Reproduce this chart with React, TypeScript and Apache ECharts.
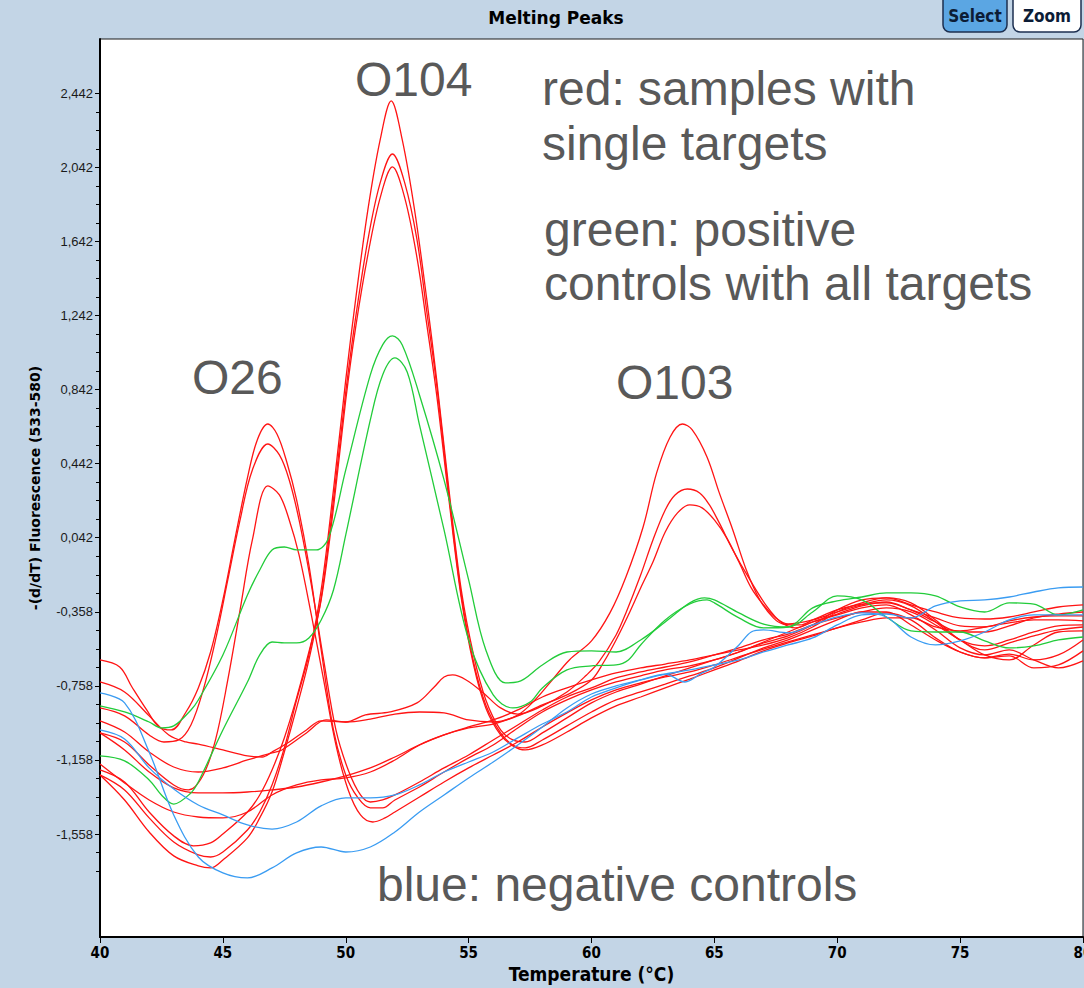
import React, { useEffect, useRef } from "react";
import * as echarts from "echarts";

type Pt = [number, number];

// ---- axis ticks ----
const xTicks = [40, 45, 50, 55, 60, 65, 70, 75, 80];
const yMajorTicks = [-1.558, -1.158, -0.758, -0.358, 0.042, 0.442, 0.842, 1.242, 1.642, 2.042, 2.442];
const yMinorTicks = [
  -1.758, -1.658, -1.458, -1.358, -1.258, -1.058, -0.958, -0.858, -0.658, -0.558, -0.458,
  -0.258, -0.158, -0.058, 0.142, 0.242, 0.342, 0.542, 0.642, 0.742, 0.942, 1.042, 1.142,
  1.342, 1.442, 1.542, 1.742, 1.842, 1.942, 2.142, 2.242, 2.342,
];

// ---- negative controls (blue) ----
const neg1: Pt[] = [
  [40, -0.796], [41, -0.85], [42, -1.115], [43, -1.455], [44, -1.682], [45, -1.768], [46, -1.795],
  [47, -1.741], [48, -1.66], [49, -1.628], [50, -1.655], [51, -1.628], [52, -1.547], [53, -1.439],
  [54, -1.347], [55, -1.255], [56, -1.169], [57, -1.077], [58, -0.98], [59, -0.877], [60, -0.802],
  [61, -0.758], [62, -0.726], [63, -0.694], [64, -0.672], [65, -0.645], [66, -0.618], [67, -0.575],
  [68, -0.537], [69, -0.499], [70, -0.429], [71, -0.375], [72, -0.37], [73, -0.391], [74, -0.326],
  [75, -0.299], [76, -0.294], [77, -0.278], [78, -0.251], [79, -0.229], [80, -0.224],
];
const neg2: Pt[] = [
  [40, -0.996], [41, -1.045], [42, -1.201], [43, -1.315], [44, -1.401], [45, -1.455], [46, -1.509],
  [47, -1.531], [48, -1.493], [49, -1.406], [50, -1.363], [51, -1.363], [52, -1.347], [53, -1.293],
  [54, -1.223], [55, -1.169], [56, -1.115], [57, -1.039], [58, -0.964], [59, -0.899], [60, -0.818],
  [61, -0.769], [62, -0.726], [63, -0.694], [63.8, -0.737], [64.5, -0.688], [65, -0.656], [66, -0.537],
  [66.5, -0.467], [67, -0.456], [68, -0.472], [69, -0.429], [70, -0.386], [71, -0.364], [72, -0.386],
  [73, -0.494], [74, -0.537], [75, -0.515], [76, -0.467], [77, -0.402], [78, -0.375], [79, -0.375],
  [80, -0.375],
];

// ---- positive controls (green) ----
const pos1: Pt[] = [
  [40, -0.866], [41, -0.899], [42, -0.953], [42.5, -0.985], [43, -0.974], [43.7, -0.888], [44, -0.834],
  [45, -0.591], [46, -0.267], [46.5, -0.132], [47, -0.024], [47.5, -0.008], [48, -0.024], [48.8, -0.024],
  [49.3, 0.041], [50, 0.408], [51, 0.921], [51.5, 1.083], [51.9, 1.132], [52.3, 1.083], [53, 0.813],
  [54, 0.354], [55, -0.186], [55.7, -0.564], [56.5, -0.742], [57, -0.737], [58, -0.645], [59, -0.575],
  [60, -0.569], [61, -0.575], [62, -0.51], [63, -0.413], [64, -0.31], [64.6, -0.283], [65, -0.294],
  [66, -0.364], [67, -0.424], [68, -0.44], [69, -0.359], [70, -0.272], [71, -0.294], [72, -0.386],
  [73, -0.461], [74, -0.467], [75, -0.467], [76, -0.515], [77, -0.553], [78, -0.542], [79, -0.51],
  [80, -0.494],
];
const pos2: Pt[] = [
  [40, -1.136], [41, -1.163], [42, -1.266], [42.5, -1.347], [43, -1.396], [43.7, -1.336], [44, -1.277],
  [45, -0.996], [46, -0.737], [46.5, -0.591], [47, -0.521], [47.5, -0.526], [48, -0.526], [48.5, -0.499],
  [49, -0.402], [49.5, -0.24], [50, 0.057], [51, 0.678], [51.5, 0.921], [52, 1.013], [52.5, 0.937],
  [53, 0.651], [54, 0.084], [55, -0.51], [56, -0.807], [56.8, -0.877], [57.5, -0.845], [58, -0.769],
  [59, -0.672], [60, -0.65], [61, -0.645], [61.5, -0.618], [62, -0.537], [63, -0.402], [64, -0.316],
  [64.7, -0.294], [65, -0.31], [66, -0.391], [67, -0.445], [68, -0.44], [69, -0.337], [70, -0.299],
  [71, -0.278], [72, -0.256], [73, -0.256], [74, -0.272], [75, -0.332], [76, -0.359], [77, -0.31],
  [78, -0.316], [79, -0.375], [80, -0.348],
];

// ---- samples (red) ----
const o26a: Pt[] = [
  [40, -0.618], [40.8, -0.656], [41.3, -0.764], [41.9, -0.888], [42.4, -0.98], [42.9, -0.996],
  [43.5, -0.899], [44, -0.769], [44.5, -0.575], [45, -0.294], [45.5, 0.041], [46, 0.365], [46.4, 0.57],
  [46.83, 0.656], [47.2, 0.602], [47.6, 0.451], [48, 0.246], [48.5, -0.105], [49, -0.564], [49.5, -0.996],
  [50, -1.239], [50.5, -1.363], [51, -1.417], [51.5, -1.417], [52, -1.374], [53, -1.304], [54, -1.223],
  [55, -1.147], [56, -1.077], [57, -0.985], [58, -0.899], [59, -0.834], [60, -0.78], [61, -0.737],
  [62, -0.704], [63, -0.672], [64, -0.65], [65, -0.618], [66, -0.575], [67, -0.526], [68, -0.488],
  [69, -0.429], [70, -0.348], [71, -0.294], [72, -0.283], [73, -0.321], [74, -0.359], [75, -0.391],
  [76, -0.397], [77, -0.386], [78, -0.359], [79, -0.332], [80, -0.321],
];
const o26b: Pt[] = [
  [40, -0.877], [41, -0.92], [42, -1.023], [42.6, -1.061], [43.2, -1.05], [43.7, -0.969], [44.2, -0.78],
  [44.7, -0.51], [45.2, -0.186], [45.7, 0.138], [46.2, 0.408], [46.83, 0.548], [47.3, 0.489], [47.7, 0.354],
  [48.1, 0.138], [48.6, -0.213], [49.1, -0.618], [49.6, -0.996], [50.1, -1.212], [50.6, -1.347],
  [51, -1.385], [51.5, -1.374], [52, -1.347], [53, -1.277], [54, -1.201], [55, -1.131], [56, -1.05],
  [57, -0.969], [58, -0.888], [59, -0.818], [60, -0.769], [61, -0.715], [62, -0.683], [63, -0.656],
  [64, -0.629], [65, -0.591], [66, -0.553], [67, -0.51], [68, -0.478], [69, -0.429], [70, -0.391],
  [71, -0.359], [72, -0.337], [73, -0.359], [74, -0.429], [75, -0.51], [76, -0.591], [77, -0.618],
  [78, -0.537], [79, -0.467], [80, -0.461],
];
const o26c: Pt[] = [
  [40, -1.012], [41, -1.061], [42, -1.185], [43, -1.293], [43.6, -1.32], [44.2, -1.239], [44.7, -1.05],
  [45.2, -0.726], [45.7, -0.348], [46.2, 0.03], [46.83, 0.322], [47.3, 0.273], [47.7, 0.138],
  [48.1, -0.051], [48.6, -0.375], [49.1, -0.726], [49.6, -1.077], [50.1, -1.32], [50.6, -1.455],
  [51.1, -1.493], [51.6, -1.471], [52, -1.439], [53, -1.358], [54, -1.277], [55, -1.201], [56, -1.131],
  [57, -1.061], [58, -0.98], [59, -0.904], [60, -0.834], [61, -0.78], [62, -0.742], [63, -0.71],
  [64, -0.683], [65, -0.645], [66, -0.602], [67, -0.559], [68, -0.521], [69, -0.483], [70, -0.445],
  [71, -0.402], [72, -0.364], [73, -0.402], [74, -0.499], [75, -0.575], [76, -0.607], [77, -0.586],
  [78, -0.618], [79, -0.591], [80, -0.51],
];
const o104a: Pt[] = [
  [40, -1.239], [41, -1.32], [42, -1.471], [43, -1.601], [44, -1.671], [44.5, -1.682], [45, -1.655],
  [46, -1.536], [46.5, -1.439], [47, -1.293], [47.5, -1.093], [48, -0.834], [48.5, -0.591], [49, -0.24],
  [49.5, 0.3], [50, 0.894], [50.4, 1.326], [50.9, 1.812], [51.4, 2.19], [51.85, 2.401], [52.3, 2.19],
  [52.8, 1.812], [53.3, 1.326], [53.7, 0.894], [54.2, 0.3], [54.7, -0.24], [55.2, -0.591], [55.7, -0.834],
  [56.3, -0.996], [56.8, -1.05], [57.3, -1.061], [58, -1.012], [59, -0.931], [60, -0.85], [61, -0.791],
  [62, -0.748], [63, -0.704], [64, -0.661], [65, -0.618], [66, -0.575], [67, -0.521], [68, -0.467],
  [69, -0.413], [70, -0.37], [71, -0.326], [72, -0.305], [73, -0.348], [74, -0.391], [75, -0.434],
  [76, -0.44], [77, -0.407], [78, -0.386], [79, -0.38], [80, -0.38],
];
const o104b: Pt[] = [
  [40, -1.239], [41, -1.374], [42, -1.547], [43, -1.676], [44, -1.73], [44.5, -1.741], [45, -1.698],
  [46, -1.579], [46.5, -1.471], [47, -1.331], [47.5, -1.115], [48, -0.877], [48.5, -0.618], [49, -0.283],
  [49.5, 0.246], [50, 0.829], [50.4, 1.229], [50.9, 1.65], [51.4, 1.958], [51.9, 2.114], [52.4, 1.958],
  [52.9, 1.65], [53.3, 1.261], [53.7, 0.867], [54.2, 0.273], [54.7, -0.267], [55.2, -0.629],
  [55.7, -0.861], [56.3, -1.012], [56.8, -1.077], [57.3, -1.093], [58, -1.05], [59, -0.974], [60, -0.899],
  [61, -0.834], [62, -0.791], [63, -0.748], [64, -0.704], [65, -0.661], [66, -0.607], [67, -0.553],
  [68, -0.51], [69, -0.456], [70, -0.402], [71, -0.359], [72, -0.359], [73, -0.429], [74, -0.51],
  [75, -0.575], [76, -0.607], [77, -0.596], [78, -0.661], [79, -0.645], [80, -0.569],
];
const o104c: Pt[] = [
  [40, -1.212], [41, -1.277], [42, -1.439], [43, -1.568], [43.8, -1.622], [44.5, -1.606], [45, -1.558],
  [46, -1.439], [46.5, -1.347], [47, -1.212], [47.5, -1.039], [48, -0.823], [48.5, -0.575], [49, -0.294],
  [49.5, 0.203], [50, 0.786], [50.4, 1.175], [50.9, 1.569], [51.4, 1.877], [51.9, 2.044], [52.4, 1.877],
  [52.9, 1.553], [53.3, 1.191], [53.7, 0.813], [54.2, 0.246], [54.7, -0.283], [55.2, -0.645],
  [55.7, -0.877], [56.3, -1.023], [56.8, -1.082], [57.3, -1.104], [58, -1.077], [59, -1.007], [60, -0.931],
  [61, -0.866], [62, -0.818], [63, -0.769], [64, -0.721], [65, -0.672], [66, -0.623], [67, -0.569],
  [68, -0.526], [69, -0.488], [70, -0.445], [71, -0.413], [72, -0.391], [73, -0.391], [74, -0.44],
  [75, -0.461], [76, -0.44], [77, -0.418], [78, -0.402], [79, -0.402], [80, -0.407],
];
const flatLow: Pt[] = [
  [40, -1.012], [41, -1.104], [42, -1.223], [43, -1.309], [44, -1.336], [45, -1.336], [46, -1.331],
  [47, -1.32], [48, -1.304], [49, -1.277], [50, -1.244], [51, -1.201], [52, -1.142], [53, -1.077],
  [54, -1.023], [55, -0.98], [56, -0.942], [57, -0.888], [58, -0.818], [59, -0.769], [60, -0.726],
  [61, -0.688], [62, -0.661], [63, -0.64], [64, -0.618], [65, -0.591], [66, -0.564], [67, -0.537],
  [68, -0.499], [69, -0.44], [70, -0.359], [71, -0.31], [72, -0.283], [73, -0.31], [74, -0.402],
  [75, -0.51], [76, -0.564], [77, -0.526], [78, -0.488], [79, -0.456], [80, -0.44],
];
const o103a: Pt[] = [
  [40, -0.737], [41, -0.791], [42, -0.92], [42.8, -1.023], [43.5, -1.061], [44, -1.072], [45, -1.104],
  [46, -1.136], [46.6, -1.142], [47, -1.115], [47.7, -1.061], [48.4, -0.996], [49, -0.947], [50, -0.953],
  [51, -0.937], [52, -0.91], [53, -0.899], [54, -0.904], [55, -0.942], [56, -0.953], [57, -0.915],
  [57.7, -0.834], [58.4, -0.726], [59.1, -0.618], [60, -0.515], [60.75, -0.364], [61.4, -0.17],
  [62.1, 0.1], [62.65, 0.392], [63.2, 0.586], [63.7, 0.656], [64.1, 0.624], [64.7, 0.478], [65.2, 0.284],
  [65.75, 0.084], [66.3, -0.132], [66.85, -0.294], [67.4, -0.391], [67.8, -0.424], [68.5, -0.429],
  [69, -0.402], [70, -0.348], [71, -0.316], [72, -0.31], [73, -0.348], [74, -0.413], [75, -0.467],
  [76, -0.467], [77, -0.434], [78, -0.391], [79, -0.37], [80, -0.359],
];
const o103b: Pt[] = [
  [40, -0.947], [41, -1.007], [42, -1.115], [43, -1.196], [44, -1.223], [45, -1.201], [46, -1.158],
  [47, -1.12], [47.4, -1.104], [48.4, -1.012], [49.2, -0.942], [50, -0.953], [50.8, -0.915], [51.8, -0.899],
  [52.9, -0.85], [53.6, -0.764], [54, -0.71], [54.35, -0.699], [54.9, -0.726], [55.6, -0.796],
  [56.3, -0.877], [57, -0.91], [58, -0.866], [59, -0.791], [59.8, -0.699], [60.3, -0.629], [61, -0.483],
  [61.4, -0.364], [62, -0.159], [62.5, 0.03], [63, 0.192], [63.4, 0.273], [63.9, 0.305], [64.4, 0.284],
  [64.8, 0.219], [65.2, 0.122], [65.75, -0.024], [66.45, -0.186], [67.15, -0.332], [67.7, -0.413],
  [68.3, -0.445], [69, -0.413], [70, -0.375], [71, -0.337], [72, -0.321], [73, -0.375], [74, -0.456],
  [75, -0.553], [76, -0.591], [77, -0.564], [78, -0.618], [79, -0.661], [80, -0.623],
];
const o103c: Pt[] = [
  [40, -1.18], [41, -1.282], [42, -1.374], [43, -1.439], [44, -1.466], [45, -1.471], [46, -1.439],
  [47, -1.347], [48, -1.293], [49, -1.266], [50, -1.255], [51, -1.223], [52, -1.158], [53, -1.077],
  [54, -1.023], [55, -0.985], [56, -0.964], [57, -0.92], [58, -0.861], [59, -0.807], [60, -0.726],
  [60.5, -0.629], [61, -0.51], [61.5, -0.375], [62, -0.229], [62.5, -0.089], [63, 0.073], [63.5, 0.176],
  [64, 0.219], [64.5, 0.203], [65, 0.138], [65.5, 0.041], [66, -0.089], [66.5, -0.229], [67, -0.321],
  [67.5, -0.391], [68, -0.424], [69, -0.402], [70, -0.359], [71, -0.321], [72, -0.294], [73, -0.326],
  [74, -0.413], [75, -0.51], [76, -0.542], [77, -0.51], [78, -0.467], [79, -0.434], [80, -0.429],
];

const redCurves = [o26a, o26b, o26c, o104a, o104b, o104c, flatLow, o103a, o103b, o103c];
const greenCurves = [pos1, pos2];
const blueCurves = [neg1, neg2];

const RED = "#ff1414";
const GREEN = "#22cc3a";
const BLUE = "#3a9cf2";
const NOTE = "#595959";
const BG = "#c3d5e6";

const fmt = (v: number) => v.toFixed(3).replace(".", ",");

export default function App() {
  const ref = useRef<HTMLDivElement>(null);
  useEffect(() => {
    document.body.style.margin = "0";
    if (!ref.current) return;
    const chart = echarts.init(ref.current, undefined, { renderer: "svg" });
    const mk = (pts: Pt[], color: string, i: number) => ({
      type: "line",
      name: `c${i}`,
      data: pts,
      smooth: 0.35,
      showSymbol: false,
      symbol: "none",
      silent: true,
      lineStyle: { color, width: 1.3 },
      yAxisIndex: 0,
    });
    const series: any[] = [];
    redCurves.forEach((c, i) => series.push(mk(c, RED, i)));
    greenCurves.forEach((c, i) => series.push(mk(c, GREEN, 100 + i)));
    blueCurves.forEach((c, i) => series.push(mk(c, BLUE, 200 + i)));

    const note = (text: string, x: number, y: number) => ({
      type: "text",
      x,
      y,
      silent: true,
      z: 100,
      style: {
        text,
        fontFamily: "'Liberation Sans', Arial, sans-serif",
        fontSize: 48,
        fill: NOTE,
        align: "left",
        verticalAlign: "top",
      },
    });

    chart.setOption({
      animation: false,
      backgroundColor: BG,
      grid: {
        left: 100, top: 39, right: 1, bottom: 51, show: true,
        outerBoundsMode: "none", containLabel: false,
        backgroundColor: "#ffffff", borderColor: "#1a1a1a", borderWidth: 1,
      },
      xAxis: {
        type: "value", min: 40, max: 80, interval: 5,
        axisLine: { onZero: false, lineStyle: { color: "#000", width: 2 } },
        axisTick: { length: 6, lineStyle: { color: "#000" } },
        splitLine: { show: false },
        axisLabel: {
          showMinLabel: true, showMaxLabel: true, margin: 8, hideOverlap: false,
          fontFamily: "'Liberation Sans Narrow', 'DejaVu Sans Condensed', sans-serif",
          fontWeight: "bold", fontSize: 15, color: "#000",
          formatter: (v: number) => (xTicks.includes(v) ? String(v) : ""),
        },
        name: "Temperature (°C)", nameLocation: "middle", nameGap: 26,
        nameTextStyle: {
          fontFamily: "'Liberation Sans Narrow', 'DejaVu Sans Condensed', sans-serif",
          fontWeight: "bold", fontSize: 19, color: "#000",
        },
      },
      yAxis: [
        {
          type: "value", min: -2.114, max: 2.735, position: "left",
          axisLine: { show: true, onZero: false, lineStyle: { color: "#000", width: 2 } },
          axisTick: { show: true, length: 5, customValues: yMajorTicks, lineStyle: { color: "#000" } },
          axisLabel: {
            customValues: yMajorTicks, formatter: fmt, margin: 7,
            fontFamily: "'Liberation Sans', Arial, sans-serif", fontSize: 13, color: "#1a1a1a",
          },
          splitLine: { show: false },
          name: "-(d/dT) Fluorescence (533-580)", nameLocation: "middle", nameGap: 58,
          nameTextStyle: {
            fontFamily: "'DejaVu Sans', sans-serif", fontWeight: "bold", fontSize: 14, color: "#000",
          },
        },
        {
          type: "value", min: -2.114, max: 2.735, position: "left", offset: 0,
          axisLine: { show: false, onZero: false },
          axisTick: { show: true, length: 4, customValues: yMinorTicks, lineStyle: { color: "#000" } },
          axisLabel: { show: false },
          splitLine: { show: false },
        },
      ],
      series,
      graphic: [
        {
          type: "text", x: 556, y: 18, silent: true,
          style: {
            text: "Melting Peaks", fontFamily: "'DejaVu Sans', sans-serif", fontWeight: "bold",
            fontSize: 17, fill: "#000", align: "center", verticalAlign: "middle",
          },
        },
        {
          type: "rect", shape: { x: 943, y: -8, width: 64, height: 40, r: 7 }, silent: true,
          style: { fill: "#5ba6e3", stroke: "#1c2f50", lineWidth: 1.5 },
        },
        {
          type: "text", x: 975, y: 16, silent: true,
          style: {
            text: "Select", fontFamily: "'DejaVu Sans Condensed', 'DejaVu Sans', sans-serif",
            fontWeight: "bold", fontSize: 17, fill: "#0c1c36", align: "center", verticalAlign: "middle",
          },
        },
        {
          type: "rect", shape: { x: 1013, y: -8, width: 68, height: 40, r: 7 }, silent: true,
          style: { fill: "#ffffff", stroke: "#1c2f50", lineWidth: 1.5 },
        },
        {
          type: "text", x: 1047, y: 16, silent: true,
          style: {
            text: "Zoom", fontFamily: "'DejaVu Sans Condensed', 'DejaVu Sans', sans-serif",
            fontWeight: "bold", fontSize: 17, fill: "#0c1c36", align: "center", verticalAlign: "middle",
          },
        },
        note("O104", 355, 55),
        note("red: samples with", 542, 64),
        note("single targets", 542, 119),
        note("green: positive", 544, 205),
        note("controls with all targets", 544, 259),
        note("O26", 192, 353),
        note("O103", 616, 358),
        note("blue: negative controls", 377, 860),
      ],
    });
    return () => chart.dispose();
  }, []);
  return <div ref={ref} style={{ width: 1084, height: 988 }} />;
}
